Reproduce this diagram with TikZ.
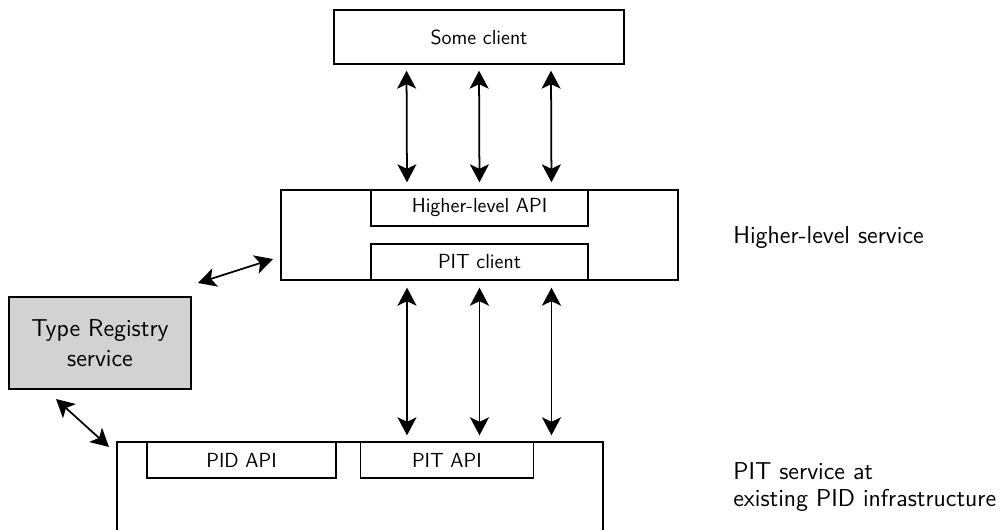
\documentclass[tikz,border=0pt]{standalone}
\usepackage{tikz}
\usetikzlibrary{positioning,arrows.meta}

\begin{document}
\begin{tikzpicture}[x=0.02cm,y=-0.02cm,
    boxnode/.style={rectangle, draw=black, line width=0.8pt, inner sep=0pt, font=\sffamily\fontsize{11.6}{14}\selectfont},
    greynode/.style={boxnode, fill=gray!35, align=center, font=\sffamily\fontsize{13.9}{17}\selectfont},
    labelnode/.style={anchor=west, align=left, inner sep=0pt, font=\sffamily\fontsize{13.9}{15.5}\selectfont},
    biarrow/.style={{Stealth[length=3.6mm,width=3.8mm,inset=0.9mm]}-{Stealth[length=3.6mm,width=3.8mm,inset=0.9mm]}, line width=1pt}]

  \useasboundingbox (0,0) rectangle (1002,530);
  \clip (0,0) rectangle (1002,530);

  \node[boxnode, minimum width=5.8cm, minimum height=1.08cm] (client) at (479,37) {Some client};

  \node[boxnode, minimum width=7.94cm, minimum height=1.8cm] (hls) at (479.5,235) {};
  \node[boxnode, minimum width=4.34cm, minimum height=0.72cm] (hapi) [below=0pt of hls.north] {Higher-level API};
  \node[boxnode, minimum width=4.34cm, minimum height=0.72cm] (pitc) [above=0pt of hls.south] {PIT client};

  \node[boxnode, minimum width=9.72cm, minimum height=1.96cm] (pits) at (360,491) {};
  \node[boxnode, minimum width=3.78cm, minimum height=0.72cm] (pidapi) [below right=0pt and 0.6cm of pits.north west] {PID API};
  \node[boxnode, minimum width=3.46cm, minimum height=0.72cm] (pitapi) [right=0.46cm of pidapi] {PIT API};

  \node[greynode, minimum width=3.64cm, minimum height=1.84cm] (treg) at (100,343) {Type Registry\\service};

  \node[labelnode] (hlslabel) at (733,238) {Higher-level service};
  \node[labelnode] (pitslabel) at (733,487) {PIT service at\\existing PID infrastructure};

  % client <-> higher-level service <-> PIT service
  \foreach \dx in {-1.45cm,0cm,1.44cm} {
    \draw[biarrow, shorten <=0.12cm, shorten >=0.14cm] ([xshift=\dx]client.south) -- ([xshift=\dx]hls.north);
    \draw[biarrow, shorten <=0.14cm, shorten >=0.12cm] ([xshift=\dx]hls.south) -- ([xshift=\dx]hls.south |- pits.north);
  }

  % type registry links
  \coordinate (tregtop) at (198,283);
  \coordinate (hlsleft) at (273,259);
  \coordinate (tregbot) at (56,399);
  \coordinate (pitsleft) at (109,447);
  \draw[biarrow] (tregtop) -- (hlsleft);
  \draw[biarrow] (tregbot) -- (pitsleft);

\end{tikzpicture}
\end{document}
